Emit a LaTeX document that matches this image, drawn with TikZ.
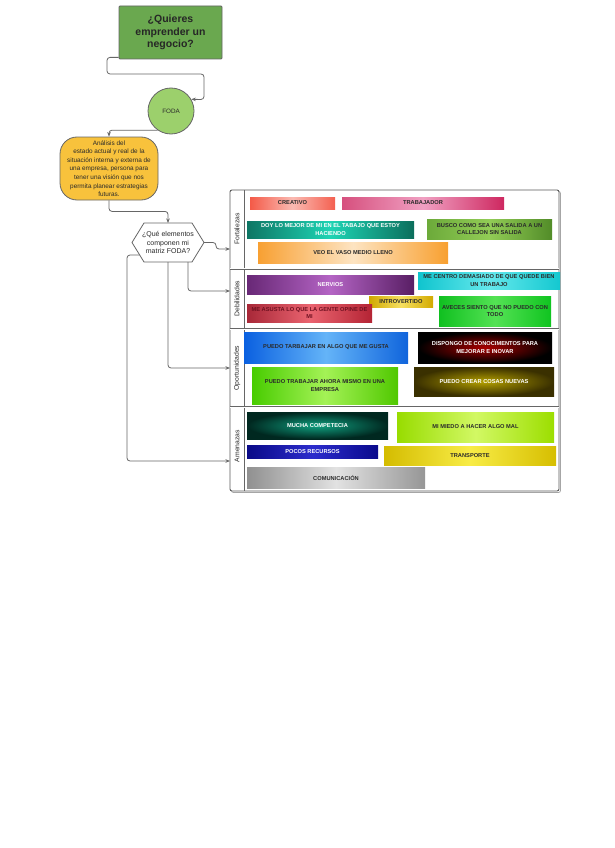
\documentclass[tikz,border=0pt]{standalone}
\usepackage{fontspec}
\setmainfont{Liberation Sans}
\usetikzlibrary{arrows.meta,shadings}
\definecolor{lineg}{HTML}{666666}
\definecolor{titleg}{HTML}{6AA84F}
\definecolor{fodag}{HTML}{9CD06C}
\definecolor{yel}{HTML}{F8C23C}
\definecolor{txt}{HTML}{2A2A2A}
\begin{document}
\begin{tikzpicture}[x=1pt,y=-1pt,
  conn/.style={draw=lineg, line width=0.8pt, rounded corners=3pt, -{Stealth[length=4.5pt,width=3.5pt]}},
  cbox/.style={inner sep=0pt, align=center, font=\fontsize{5.7}{7.4}\selectfont\bfseries, text=txt},
  wbox/.style={cbox, text=white},
  grad/.style n args={3}{left color=#1, right color=#3, middle color=#2},
  bandlabel/.style={rotate=90, font=\fontsize{6.8}{8}\selectfont, text=txt, inner sep=0pt},
  sep/.style={draw=lineg, line width=0.5pt, double=white, double distance=1pt}]
\useasboundingbox[fill=white] (0,0) rectangle (615,848);

% title
\node[draw=black!60, line width=0.8pt, fill=titleg, rounded corners=1pt, minimum width=103pt, minimum height=53pt, align=center, inner sep=0pt,
  font=\fontsize{10.5}{12.5}\selectfont\bfseries, text=black!85] (title) at (170.5,32.5) {¿Quieres\\emprender un\\negocio?};

% FODA circle
\node[circle, draw=black!60, line width=0.8pt, fill=fodag, minimum size=46pt, inner sep=0pt, font=\fontsize{6.3}{7}\selectfont, text=txt] (foda) at (171,111) {FODA};

% yellow analysis
\node[draw=black!60, line width=0.8pt, fill=yel, rounded corners=17pt, minimum width=98pt, minimum height=63pt, inner sep=0pt, align=center,
  font=\fontsize{6.4}{8.6}\selectfont, text=txt] (analisis) at (109,168.5)
  {Análisis del\\estado actual y real de la\\situación interna y externa de\\una empresa, persona para\\tener una visión que nos\\permita planear estrategias\\futuras.};

% hexagon
\draw[draw=black!60, line width=0.8pt, fill=white] (132,242.5) -- (144,223) -- (192,223) -- (204,242.5) -- (192,262) -- (144,262) -- cycle;
\node[inner sep=0pt, align=center, font=\fontsize{7}{8.7}\selectfont, text=txt] (q) at (168,242.5) {¿Qué elementos\\componen mi\\matriz FODA?};
\coordinate (qN) at (168,223);
\coordinate (qE) at (204,242.5);
\coordinate (qS) at (168,262);
\coordinate (qSE) at (188,262);
\coordinate (qSW) at (139.7,255);

% table
\draw[draw=black!35, line width=0.8pt, rounded corners=2pt] (231.5,191.5) rectangle (560.5,492.5);
\draw[draw=black!65, line width=0.9pt, fill=white, rounded corners=2pt] (230,190) rectangle (559,491);
\draw[draw=lineg, line width=0.7pt] (244,190) -- (244,491);
\draw[sep] (230,268.5) -- (559,268.5);
\draw[sep] (230,329) -- (559,329);
\draw[sep] (230,407) -- (559,407);

\node[bandlabel] (lf) at (237,229) {Fortalezas};
\node[bandlabel] (ld) at (237,298.5) {Debilidades};
\node[bandlabel] (lo) at (237,368) {Oportunidades};
\node[bandlabel] (la) at (237,446) {Amenazas};

\coordinate (tF) at (230,249);
\coordinate (tD) at (230,291);
\coordinate (tO) at (230,368);
\coordinate (tA) at (230,461);

% connectors
\draw[conn] ([yshift=2pt]title.south west) -| (107,74) -| (204,99.5) -- (foda.30);
\draw[conn] (foda.235) -| (analisis.north);
\draw[conn] (analisis.south) -- ++(0,11) -| (qN);
\draw[conn] (qE) -- (216,242.5) -- (216,249) -- (tF);
\draw[conn] (qSE) |- (tD);
\draw[conn] (qS) |- (tO);
\draw[conn] (qSW) -| (127,461) -- (tA);

% Fortalezas
\node[cbox, minimum width=85pt, minimum height=12pt, grad={{rgb,255:red,244;green,90;blue,72}}{{rgb,255:red,250;green,186;blue,178}}{{rgb,255:red,244;green,96;blue,80}}] (b1) at (292.5,203) {CREATIVO};
\node[cbox, minimum width=162pt, minimum height=12pt, grad={{rgb,255:red,214;green,80;blue,126}}{{rgb,255:red,240;green,160;blue,194}}{{rgb,255:red,206;green,40;blue,96}}] (b2) at (423,203) {TRABAJADOR};
\node[wbox, minimum width=167pt, minimum height=17pt, grad={{rgb,255:red,14;green,118;blue,100}}{{rgb,255:red,30;green,212;blue,180}}{{rgb,255:red,12;green,110;blue,92}}] (b3) at (330.5,229.5) {DOY LO MEJOR DE MI EN EL TABAJO QUE ESTOY\\HACIENDO};
\node[cbox, minimum width=125pt, minimum height=20pt, grad={{rgb,255:red,108;green,170;blue,58}}{{rgb,255:red,146;green,204;blue,86}}{{rgb,255:red,82;green,140;blue,40}}] (b4) at (489.5,229) {BUSCO COMO SEA UNA SALIDA A UN\\CALLEJON SIN SALIDA};
\node[cbox, minimum width=190pt, minimum height=21pt, grad={{rgb,255:red,248;green,160;blue,50}}{{rgb,255:red,253;green,228;blue,194}}{{rgb,255:red,248;green,160;blue,48}}] (b5) at (353,252.5) {VEO EL VASO MEDIO LLENO};

% Debilidades
\node[wbox, minimum width=167pt, minimum height=19pt, grad={{rgb,255:red,104;green,40;blue,118}}{{rgb,255:red,180;green,100;blue,196}}{{rgb,255:red,88;green,30;blue,100}}] (b6) at (330.5,284.5) {NERVIOS};
\node[cbox, minimum width=142pt, minimum height=17pt, grad={{rgb,255:red,16;green,196;blue,206}}{{rgb,255:red,100;green,232;blue,236}}{{rgb,255:red,20;green,200;blue,208}}] (b7) at (489,280.5) {ME CENTRO DEMASIADO DE QUE QUEDE BIEN\\UN TRABAJO};
\node[cbox, minimum width=64pt, minimum height=11pt, grad={{rgb,255:red,208;green,168;blue,0}}{{rgb,255:red,246;green,224;blue,96}}{{rgb,255:red,210;green,170;blue,0}}] (b8) at (401,301.5) {INTROVERTIDO};
\node[cbox, text={rgb,255:red,110;green,16;blue,32}, minimum width=125pt, minimum height=18pt, grad={{rgb,255:red,168;green,40;blue,56}}{{rgb,255:red,234;green,100;blue,112}}{{rgb,255:red,180;green,36;blue,52}}] (b9) at (309.5,313) {ME ASUSTA LO QUE LA GENTE OPINE DE\\MI};
\node[cbox, minimum width=112pt, minimum height=30pt, grad={{rgb,255:red,16;green,192;blue,32}}{{rgb,255:red,84;green,226;blue,84}}{{rgb,255:red,16;green,196;blue,32}}] (b10) at (495,311) {AVECES SIENTO QUE NO PUEDO CON\\TODO};

% Oportunidades
\node[cbox, minimum width=164pt, minimum height=31pt, grad={{rgb,255:red,10;green,96;blue,224}}{{rgb,255:red,100;green,180;blue,248}}{{rgb,255:red,16;green,100;blue,220}}] (b11) at (326,347.5) {PUEDO TARBAJAR EN ALGO QUE ME GUSTA};
\node[wbox, minimum width=134pt, minimum height=31pt, shading=radial, inner color={rgb,255:red,170;green,0;blue,0}, outer color=black] (b12) at (485,347.5) {DISPONGO DE CONOCIMENTOS PARA\\MEJORAR E INOVAR};
\node[cbox, minimum width=146pt, minimum height=37pt, grad={{rgb,255:red,72;green,204;blue,0}}{{rgb,255:red,164;green,242;blue,86}}{{rgb,255:red,80;green,200;blue,0}}] (b13) at (325,385.5) {PUEDO TRABAJAR AHORA MISMO EN UNA\\EMPRESA};
\node[wbox, minimum width=140pt, minimum height=29pt, shading=radial, inner color={rgb,255:red,180;green,160;blue,0}, outer color={rgb,255:red,58;green,48;blue,0}] (b14) at (484,381.5) {PUEDO CREAR COSAS NUEVAS};

% Amenazas
\node[wbox, minimum width=141pt, minimum height=27pt, shading=radial, inner color={rgb,255:red,16;green,160;blue,128}, outer color={rgb,255:red,0;green,40;blue,32}] (b15) at (317.5,425.5) {MUCHA COMPETECIA};
\node[cbox, minimum width=157pt, minimum height=30pt, grad={{rgb,255:red,152;green,220;blue,0}}{{rgb,255:red,210;green,248;blue,100}}{{rgb,255:red,156;green,222;blue,0}}] (b16) at (475.5,427) {MI MIEDO A HACER ALGO MAL};
\node[wbox, minimum width=131pt, minimum height=13pt, grad={{rgb,255:red,10;green,10;blue,136}}{{rgb,255:red,44;green,44;blue,204}}{{rgb,255:red,10;green,10;blue,140}}] (b17) at (312.5,451.5) {POCOS RECURSOS};
\node[cbox, minimum width=172pt, minimum height=19pt, grad={{rgb,255:red,212;green,188;blue,0}}{{rgb,255:red,248;green,236;blue,70}}{{rgb,255:red,214;green,190;blue,0}}] (b18) at (470,455.5) {TRANSPORTE};
\node[cbox, minimum width=178pt, minimum height=21pt, grad={{rgb,255:red,144;green,144;blue,144}}{{rgb,255:red,226;green,226;blue,226}}{{rgb,255:red,150;green,150;blue,150}}] (b19) at (336,477.5) {COMUNICACIÓN};
\end{tikzpicture}
\end{document}
